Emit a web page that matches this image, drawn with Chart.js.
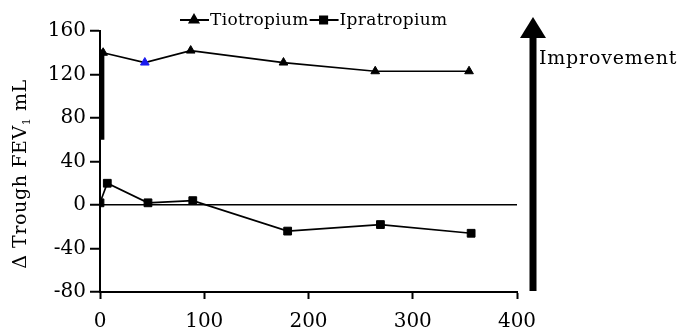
<!DOCTYPE html>
<html>
<head>
<meta charset="utf-8">
<script src="https://cdn.jsdelivr.net/npm/chart.js@4"></script>
<style>
    html, body { margin: 0; padding: 0; background: #fff; }
    #wrap { width: 681px; height: 333px; }
</style>
</head>
<body>
<div id="wrap"><canvas id="fev-chart" width="681" height="333"></canvas></div>
<script>
// values
const tioDays = [3, 43, 87, 176, 264, 354];
const tioValues = [140, 131, 142, 131, 123, 123];
const ipraDays = [0, 7, 46, 89, 180, 269, 356];
const ipraValues = [2, 20, 2, 4, -24, -18, -26];
const spikeDays = [2.5, 2.5];
const spikeValues = [143, 60];
const xTicks = [0, 100, 200, 300, 400];
const yTicks = [-80, -40, 0, 40, 80, 120, 160];

const FONT = 'DejaVu Serif';

function toPoints(xs, ys) {
    return xs.map((x, i) => ({ x: x, y: ys[i] }));
}

// legend, y title and improvement arrow
const extras = {
    id: 'extras',
    afterDraw(chart) {
        const ctx = chart.ctx;
        ctx.save();
        ctx.fillStyle = '#000';
        ctx.strokeStyle = '#000';

        // legend
        ctx.font = '17px "' + FONT + '"';
        ctx.letterSpacing = '0.3px';
        ctx.textBaseline = 'middle';
        ctx.textAlign = 'left';
        let x = 180;
        const ly = 20;
        const items = [['Tiotropium', 'triangle'], ['Ipratropium', 'rect']];
        items.forEach(function (it) {
            ctx.lineWidth = 2;
            ctx.beginPath();
            ctx.moveTo(x, ly);
            ctx.lineTo(x + 29, ly);
            ctx.stroke();
            Chart.helpers.drawPoint(ctx, { pointStyle: it[1], radius: 5, borderWidth: 1 }, x + 14, ly);
            ctx.fill();
            ctx.fillText(it[0], x + 30, ly + 1);
            x += 30 + ctx.measureText(it[0]).width + 1;
        });

        // y axis title
        ctx.save();
        ctx.translate(21, 174);
        ctx.rotate(-Math.PI / 2);
        ctx.letterSpacing = '0.6px';
        ctx.font = '19px "' + FONT + '"';
        ctx.textAlign = 'left';
        const parts = ['Δ Trough FEV', '1', ' mL'];
        const w0 = ctx.measureText(parts[0]).width;
        ctx.font = '11px "' + FONT + '"';
        const w1 = ctx.measureText(parts[1]).width;
        ctx.font = '19px "' + FONT + '"';
        const w2 = ctx.measureText(parts[2]).width;
        let tx = -(w0 + w1 + w2) / 2;
        ctx.fillText(parts[0], tx, 0);
        ctx.font = '11px "' + FONT + '"';
        ctx.fillText(parts[1], tx + w0, 6);
        ctx.font = '19px "' + FONT + '"';
        ctx.fillText(parts[2], tx + w0 + w1, 0);
        ctx.restore();

        // improvement arrow
        ctx.lineWidth = 7;
        ctx.beginPath();
        ctx.moveTo(533, 291);
        ctx.lineTo(533, 34);
        ctx.stroke();
        ctx.beginPath();
        ctx.moveTo(533, 17);
        ctx.lineTo(546, 38);
        ctx.lineTo(520, 38);
        ctx.closePath();
        ctx.fill();
        ctx.font = '19px "' + FONT + '"';
        ctx.letterSpacing = '0.8px';
        ctx.textAlign = 'left';
        ctx.fillText('Improvement', 539, 59);
        ctx.restore();
    }
};

document.addEventListener('DOMContentLoaded', function () {
    const canvas = document.getElementById('fev-chart');

    new Chart(canvas, {
        type: 'scatter',
        data: {
            datasets: [{
                label: 'Tiotropium',
                data: toPoints(tioDays, tioValues),
                showLine: true,
                borderColor: '#000',
                borderWidth: 1.7,
                backgroundColor: '#000',
                pointStyle: 'triangle',
                pointRadius: 5,
                pointBorderWidth: 1,
                pointBackgroundColor: tioDays.map((d, i) => i === 1 ? '#1a1aee' : '#000'),
                pointBorderColor: tioDays.map((d, i) => i === 1 ? '#1a1aee' : '#000')
            }, {
                label: 'Ipratropium',
                data: toPoints(ipraDays, ipraValues),
                showLine: true,
                borderColor: '#000',
                borderWidth: 1.7,
                backgroundColor: '#000',
                pointStyle: 'rect',
                pointRadius: 5.5,
                pointBorderWidth: 1,
                pointBackgroundColor: '#000',
                pointBorderColor: '#000'
            }, {
                label: 'spike',
                data: toPoints(spikeDays, spikeValues),
                showLine: true,
                borderColor: '#000',
                borderWidth: 3.5,
                pointRadius: 0
            }]
        },
        options: {
            responsive: false,
            animation: false,
            layout: {
                padding: { left: 0, top: 31, right: 164, bottom: 0 }
            },
            plugins: {
                legend: { display: false },
                tooltip: { enabled: false }
            },
            scales: {
                x: {
                    type: 'linear',
                    min: 0,
                    max: 400,
                    afterBuildTicks: function (scale) {
                        scale.ticks = xTicks.map(v => ({ value: v }));
                    },
                    afterFit: function (scale) { scale.height = 41; },
                    border: { display: true, color: '#000', width: 2 },
                    grid: {
                        drawOnChartArea: false,
                        drawTicks: true,
                        tickLength: 7,
                        tickColor: '#000',
                        tickWidth: 2
                    },
                    ticks: {
                        color: '#000',
                        padding: 11,
                        maxRotation: 0,
                        font: { family: FONT, size: 20 }
                    }
                },
                y: {
                    type: 'linear',
                    min: -80,
                    max: 160,
                    afterBuildTicks: function (scale) {
                        scale.ticks = yTicks.map(v => ({ value: v }));
                    },
                    afterFit: function (scale) { scale.width = 100; },
                    border: { display: true, color: '#000', width: 2 },
                    grid: {
                        drawOnChartArea: true,
                        color: ctx => ctx.tick && ctx.tick.value === 0 ? '#000' : 'rgba(0,0,0,0)',
                        lineWidth: 1.5,
                        drawTicks: true,
                        tickLength: 10,
                        tickColor: '#000',
                        tickWidth: 2
                    },
                    ticks: {
                        color: '#000',
                        padding: 4,
                        font: { family: FONT, size: 20 }
                    }
                }
            }
        },
        plugins: [extras]
    });
});
</script>
</body>
</html>
